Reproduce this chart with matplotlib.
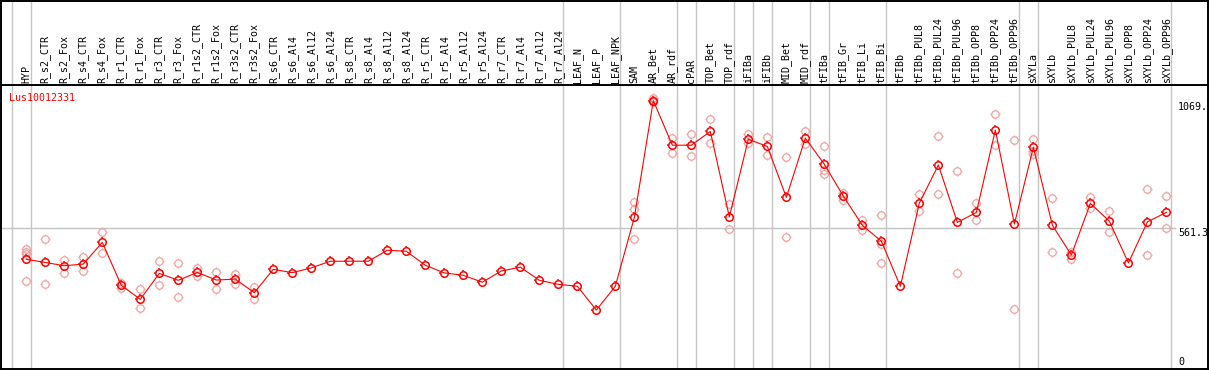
import matplotlib
matplotlib.use("Agg")
import matplotlib.pyplot as plt
import numpy as np
from matplotlib.path import Path

# sample names (one column each)
samples = [
    "HYP", "R_s2_CTR", "R_s2_Fox", "R_s4_CTR", "R_s4_Fox", "R_r1_CTR", "R_r1_Fox",
    "R_r3_CTR", "R_r3_Fox", "R_r1s2_CTR", "R_r1s2_Fox", "R_r3s2_CTR", "R_r3s2_Fox",
    "R_s6_CTR", "R_s6_Al4", "R_s6_Al12", "R_s6_Al24", "R_s8_CTR", "R_s8_Al4",
    "R_s8_Al12", "R_s8_Al24", "R_r5_CTR", "R_r5_Al4", "R_r5_Al12", "R_r5_Al24",
    "R_r7_CTR", "R_r7_Al4", "R_r7_Al12", "R_r7_Al24", "LEAF_N", "LEAF_P", "LEAF_NPK",
    "SAM", "AR_Bet", "AR_rdf", "cPAR", "TOP_Bet", "TOP_rdf", "iFIBa", "iFIBb",
    "MID_Bet", "MID_rdf", "tFIBa", "tFIB_Gr", "tFIB_Li", "tFIB_Bi", "tFIBb",
    "tFIBb_PUL8", "tFIBb_PUL24", "tFIBb_PUL96", "tFIBb_OPP8", "tFIBb_OPP24", "tFIBb_OPP96",
    "sXYLa", "sXYLb", "sXYLb_PUL8", "sXYLb_PUL24", "sXYLb_PUL96", "sXYLb_OPP8",
    "sXYLb_OPP24", "sXYLb_OPP96",
]

# mean expression per sample
means = [
    431, 418, 404, 411, 502, 322, 263, 372, 343, 376, 344, 348, 291,
    389, 375, 395, 423, 423, 423, 469, 465, 406, 374, 364, 335,
    382, 398, 343, 326, 318, 218, 318,
    607, 1097, 910, 910, 968, 609, 935, 905, 691, 940,
    830, 696, 574, 507, 318,
    667, 827, 586, 628, 974, 579,
    901, 574, 449, 666, 591, 416, 588, 628,
]

# individual replicates
replicates = [
    [473, 463, 453, 340], [516, 327], [428, 372], [442, 383], [544, 456],
    [333, 309], [305, 225], [425, 323], [414, 272], [396, 361], [377, 305],
    [368, 326], [315, 263],
    [], [], [], [], [], [], [], [], [], [], [], [], [], [], [], [], [], [], [],
    [673, 641, 515], [1108, 1100, 1090], [940, 876], [957, 863], [1019, 919],
    [663, 557], [957, 918], [945, 868], [859, 526], [970, 915],
    [907, 806, 789], [711, 680], [598, 555], [617, 495, 414], [],
    [704, 634], [949, 704], [802, 372], [666, 595], [1040, 910], [931, 221],
    [936, 885, 872], [688, 460], [460, 432], [694, 645], [634, 544], [],
    [726, 448], [696, 561],
]

gene = "Lus10012331"
y_marks = [1069, 561.3, 0]
y_mark_text = ["1069.", "561.3", "0"]
group_ends = ["HYP", "R_r7_Al24", "LEAF_NPK", "AR_rdf", "cPAR", "TOP_rdf", "iFIBa",
              "iFIBb", "MID_rdf", "tFIBa", "tFIB_Bi", "tFIBb_OPP96", "sXYLa", "sXYLb_OPP96"]

W, H = 1209, 370
fig = plt.figure(figsize=(W / 100, H / 100), dpi=100)
ax = fig.add_axes([1 / W, 1 / H, 1207 / W, 284 / H])
hx = fig.add_axes([1 / W, 285 / H, 1207 / W, 84 / H], sharex=ax)

x = np.arange(len(samples))
ax.set_xlim(-1.33, 62.19)
ax.set_ylim(-29.4, 1162.8)
hx.set_ylim(0, 1)

grid_col = "#c4c4c4"
seps = [-1] + [samples.index(s) for s in group_ends]
for s in seps:
    ax.axvline(s + 0.23, color=grid_col, lw=1.0, zorder=1)
    hx.axvline(s + 0.23, color=grid_col, lw=1.0, zorder=1)
ax.hlines(561.3, -1.33, 60.5, color=grid_col, lw=1.0, zorder=1)

# little ticks sticking out of each circle
ticks = Path([(1, 0), (1.45, 0), (-1, 0), (-1.45, 0), (0, 1), (0, 1.45), (0, -1), (0, -1.45)],
             [Path.MOVETO, Path.LINETO] * 4)


def circles(xs, ys, col, lw, z):
    ax.plot(xs, ys, ls="none", marker="o", ms=5.4, mfc="none", mec=col, mew=lw, zorder=z)
    ax.plot(xs, ys, ls="none", marker=ticks, ms=7.8, mfc="none", mec=col, mew=lw, zorder=z)


for i, reps in enumerate(replicates):
    if reps:
        circles([i] * len(reps), reps, "#f0a0a0", 0.9, 2)
ax.plot(x, means, color="red", lw=0.8, zorder=3)
circles(x, means, "red", 1.1, 4)

font = "DejaVu Sans Mono"
for i, s in enumerate(samples):
    hx.text(i, 2 / 84, s, rotation=90, ha="center", va="bottom",
            fontsize=7.2, family=font)

ax.text(8 / 1207, (369 - 97.7) / 284, gene, transform=ax.transAxes, color="red",
        ha="left", va="center", fontsize=7.2, family=font)
for v, t in zip(y_marks, y_mark_text):
    ax.text(60.62, v, t, ha="left", va="top" if t == "561.3" else "center",
            fontsize=7.2, family=font)

for a in (ax, hx):
    a.set_xticks([])
    a.set_yticks([])
    for sp in a.spines.values():
        sp.set_color("black")
        sp.set_linewidth(1.4)

fig.savefig("out.png", dpi=100)
